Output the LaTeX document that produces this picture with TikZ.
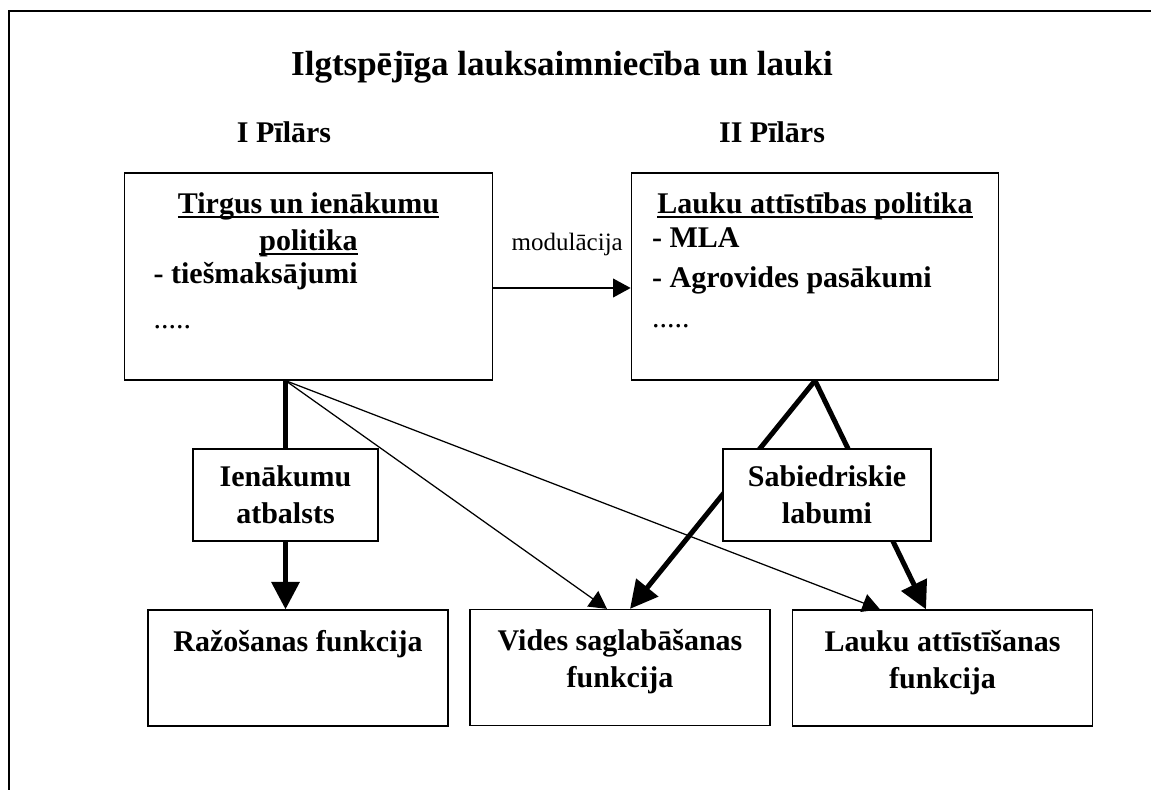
\documentclass[tikz,border=0pt]{standalone}
\usepackage{fontspec}
\setmainfont{Liberation Serif}
\usetikzlibrary{arrows.meta,positioning}

\newcommand{\ulbold}[1]{\setbox0\hbox{#1}\rlap{\rule[-1.9pt]{\wd0}{1pt}}\box0}

\tikzstyle{polbox} = [rectangle, draw, line width=0.5pt, minimum width=147pt, minimum height=82.8pt, inner sep=0pt]
\tikzstyle{midbox} = [rectangle, draw, fill=white, line width=0.5pt, minimum height=36.8pt, inner sep=0pt, align=center, font=\fontsize{12}{14.8}\selectfont\bfseries]
\tikzstyle{funcbox} = [rectangle, draw, line width=0.5pt, minimum width=120pt, minimum height=46.4pt, inner sep=0pt]
\tikzstyle{headtext} = [inner sep=0pt, align=center, font=\fontsize{12}{14.8}\selectfont\bfseries]
\tikzstyle{listtext} = [inner sep=0pt, anchor=north west, align=left, font=\fontsize{12}{16}\selectfont\bfseries]
\tikzset{thinedge/.style = {line width=0.5pt, -{Triangle[length=7pt,width=7.5pt]}},
  thickedge/.style = {line width=2pt, -{Triangle[length=11pt,width=11pt]}},
  thickline/.style = {line width=2pt},
  modlabel/.style = {midway, above=12.6pt, xshift=2.2pt, inner sep=0pt, font=\fontsize{10}{12}\selectfont}
}

\begin{document}
\begin{tikzpicture}[x=0.4pt, y=-0.4pt]
  \useasboundingbox (0,0) rectangle (1151,790);
  \draw[line width=0.6pt] (9,11) rectangle (1200,840);

  % headings
  \node[font=\fontsize{14}{17}\selectfont\bfseries] (title) at (562,67) {Ilgtspējīga lauksaimniecība un lauki};
  \node[font=\fontsize{12}{14}\selectfont\bfseries] (pil1) at (284,132) {I Pīlārs};
  \node[font=\fontsize{12}{14}\selectfont\bfseries] (pil2) at (772,132) {II Pīlārs};

  % policy boxes
  \node[polbox] (tirgus) at (308.5,276.5) {};
  \node[polbox] (lauki) at (815,276.5) {};
  \node[headtext, below=8pt of tirgus.north] (tirgushead) {\ulbold{Tirgus un ienākumu}\\\ulbold{politika}};
  \node[listtext] (tirguslist) at ([xshift=11.6pt,yshift=-35.6pt]tirgus.north west)
    {- tiešmaksājumi\\[2pt]{\mdseries .....}};
  \node[headtext, below=8pt of lauki.north] (laukihead) {\ulbold{Lauku attīstības politika}};
  \node[listtext] (laukilist) at ([xshift=8.4pt,yshift=-22pt]lauki.north west)
    {- MLA\\- Agrovides pasākumi\\{\mdseries .....}};

  % function boxes
  \node[funcbox] (razos) at (298,668) {};
  \node[funcbox] (vides) at (620,667.5) {};
  \node[funcbox] (attist) at (942.5,668) {};
  \node[headtext, below=8pt of razos.north] (razostext) {Ražošanas funkcija};
  \node[headtext, below=8pt of vides.north] (videstext) {Vides saglabāšanas\\funkcija};
  \node[headtext, below=8pt of attist.north] (attisttext) {Lauku attīstīšanas\\funkcija};

  \node[midbox, minimum width=74pt] (ienak) at (285.5,495) {Ienākumu\\atbalsts};

  % edges
  \coordinate (fork) at (ienak.north |- tirgus.south);
  \draw[thinedge] ([yshift=-4.6pt]tirgus.east) -- node[modlabel] (modul) {modulācija} ([yshift=-4.6pt]lauki.west);
  \draw[thickline] (fork) -- (ienak.north);
  \draw[thickedge] (ienak.south) -- (ienak.south |- razos.north);
  \draw[thinedge] (fork) -- ([xshift=-5.2pt]vides.north);
  \draw[thinedge] (fork) -- ([xshift=-25pt]attist.north);
  \draw[thickedge] (lauki.south) -- ([xshift=4pt]vides.north);
  \draw[thickedge] (lauki.south) -- ([xshift=-6.6pt]attist.north);

  \node[midbox, minimum width=83.2pt] (sabied) at (827,495) {Sabiedriskie\\labumi};
\end{tikzpicture}
\end{document}
